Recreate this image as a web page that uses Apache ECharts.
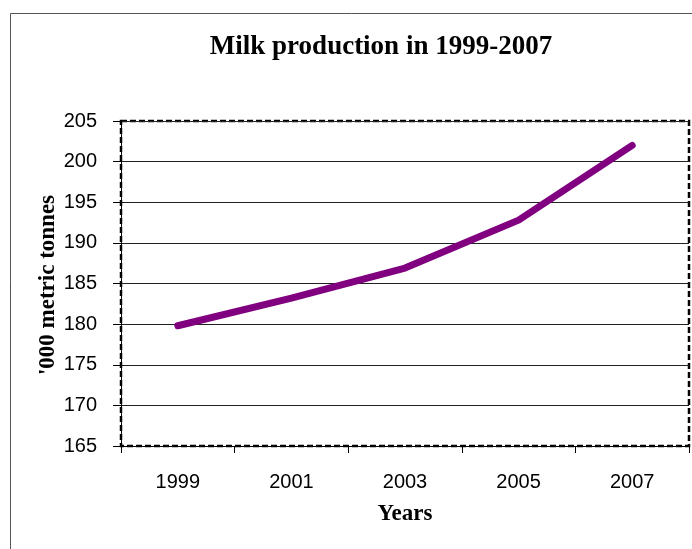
<!DOCTYPE html>
<html>
<head>
<meta charset="utf-8">
<script src="https://cdn.jsdelivr.net/npm/echarts@6/dist/echarts.min.js"></script>
<style>html,body{margin:0;padding:0;background:#fff;}#c{width:692px;height:549px;}</style>
</head>
<body>
<div id="c"></div>
<script>
const categories = ['1999', '2001', '2003', '2005', '2007'];
const milkValues = [179.8, 183.2, 186.9, 192.8, 202.0];
const yTicks = [165, 170, 175, 180, 185, 190, 195, 200, 205];

const chart = echarts.init(document.getElementById('c'));
chart.setOption({
  animation: false,
  backgroundColor: '#fff',
  title: {
    text: 'Milk production in 1999-2007',
    left: 376, top: 29, textAlign: 'center',
    textStyle: { fontFamily: 'Liberation Serif', fontWeight: 'bold', fontSize: 27, color: '#000' }
  },
  graphic: [
    { type: 'rect', shape: { x: 10.5, y: 13.5, width: 700, height: 600 }, style: { fill: 'none', stroke: '#555', lineWidth: 1 }, silent: true },
    { type: 'text', x: 48, y: 285, rotation: Math.PI / 2,
      style: { text: "'000 metric tonnes", fontFamily: 'Liberation Serif', fontWeight: 'bold', fontSize: 23, fill: '#000', align: 'center', verticalAlign: 'middle' } }
  ],
  grid: {
    left: 121, top: 121, right: 3, bottom: 103,
    show: true, borderColor: '#000', borderWidth: 2.5, borderType: [6, 3], backgroundColor: 'transparent'
  },
  xAxis: {
    type: 'category', data: categories, boundaryGap: true,
    name: 'Years', nameLocation: 'middle', nameGap: 57,
    nameTextStyle: { fontFamily: 'Liberation Serif', fontWeight: 'bold', fontSize: 23, color: '#000' },
    axisLine: { show: true, lineStyle: { color: '#000', width: 1 } },
    axisTick: { show: true, alignWithLabel: false, length: 7, lineStyle: { color: '#000' } },
    axisLabel: { margin: 26, fontFamily: 'Liberation Sans', fontSize: 20, color: '#000' },
    splitLine: { show: false }
  },
  yAxis: {
    type: 'value', min: yTicks[0], max: yTicks[yTicks.length - 1], interval: 5,
    axisLine: { show: true, lineStyle: { color: '#000', width: 1 } },
    axisTick: { show: true, length: 8, lineStyle: { color: '#000' } },
    axisLabel: { margin: 24, fontFamily: 'Liberation Sans', fontSize: 20, color: '#000' },
    splitLine: { show: true, lineStyle: { color: '#222', width: 1 } }
  },
  series: [{
    type: 'line', data: milkValues, showSymbol: false, symbol: 'none',
    lineStyle: { color: '#800080', width: 7, cap: 'round', join: 'round' },
    itemStyle: { color: '#800080' }
  }]
});
</script>
</body>
</html>
